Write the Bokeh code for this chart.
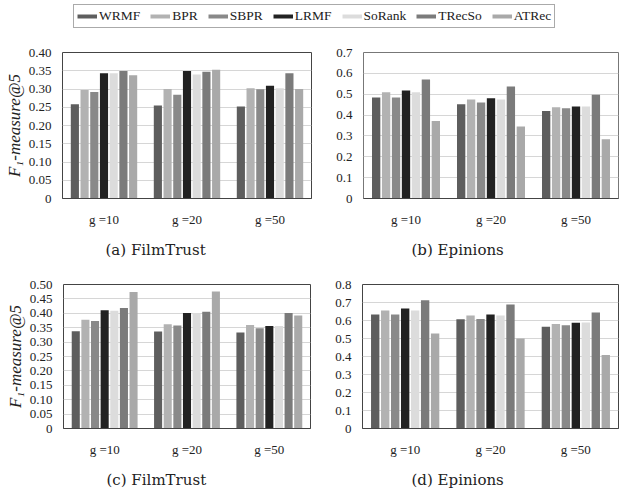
from bokeh.plotting import figure
from bokeh.models import FactorRange, Range1d, FixedTicker, Title, ColumnDataSource, PrintfTickFormatter
from bokeh.transform import dodge
from bokeh.layouts import column, row
from bokeh.embed import file_html
from bokeh.resources import INLINE

groups = ["g =10", "g =20", "g =50"]
methods = ["WRMF", "BPR", "SBPR", "LRMF", "SoRank", "TRecSo", "ATRec"]
colors = ["#5e5e5e", "#b2b2b2", "#898989", "#222222", "#dcdcdc", "#7b7b7b", "#a9a9a9"]

# rows: methods (same order as `methods`), columns: groups
vals_a = [
    [0.258, 0.255, 0.252],
    [0.297, 0.300, 0.302],
    [0.292, 0.284, 0.299],
    [0.343, 0.349, 0.309],
    [0.343, 0.340, 0.302],
    [0.349, 0.347, 0.343],
    [0.338, 0.353, 0.300],
]
vals_b = [
    [0.484, 0.452, 0.420],
    [0.510, 0.475, 0.438],
    [0.484, 0.460, 0.433],
    [0.518, 0.481, 0.441],
    [0.510, 0.475, 0.441],
    [0.571, 0.537, 0.497],
    [0.371, 0.345, 0.284],
]
vals_c = [
    [0.338, 0.337, 0.333],
    [0.378, 0.362, 0.359],
    [0.373, 0.358, 0.348],
    [0.411, 0.401, 0.356],
    [0.409, 0.400, 0.356],
    [0.418, 0.405, 0.401],
    [0.474, 0.476, 0.392],
]
vals_d = [
    [0.633, 0.607, 0.565],
    [0.656, 0.628, 0.581],
    [0.633, 0.609, 0.574],
    [0.667, 0.633, 0.588],
    [0.656, 0.628, 0.589],
    [0.712, 0.689, 0.644],
    [0.528, 0.500, 0.409],
]

ticks_a = [0, 0.05, 0.10, 0.15, 0.20, 0.25, 0.30, 0.35, 0.40]
labels_a = ["0", "0.05", "0.10", "0.15", "0.20", "0.25", "0.30", "0.35", "0.40"]
ticks_b = [0, 0.1, 0.2, 0.3, 0.4, 0.5, 0.6, 0.7]
labels_b = ["0", "0.1", "0.2", "0.3", "0.4", "0.5", "0.6", "0.7"]
ticks_c = [0, 0.05, 0.10, 0.15, 0.20, 0.25, 0.30, 0.35, 0.40, 0.45, 0.50]
labels_c = ["0", "0.05", "0.10", "0.15", "0.20", "0.25", "0.30", "0.35", "0.40", "0.45", "0.50"]
ticks_d = [0, 0.1, 0.2, 0.3, 0.4, 0.5, 0.6, 0.7, 0.8]
labels_d = ["0", "0.1", "0.2", "0.3", "0.4", "0.5", "0.6", "0.7", "0.8"]

ylabel = "F\u2081-measure@5"
SERIF = "'Liberation Serif', 'Times New Roman', Times, serif"
SLOT = 0.117
BARW = 0.098


def panel(vals, ticks, labels, fmt, caption, cap_offset, width, height,
          left, right, top, bottom, ytitle=None, outline="#444444"):
    p = figure(x_range=FactorRange(factors=groups, range_padding=0, factor_padding=0),
               y_range=Range1d(ticks[0], ticks[-1]),
               width=width, height=height,
               min_border_left=left, min_border_right=right,
               min_border_top=top, min_border_bottom=bottom,
               output_backend="svg", toolbar_location=None)
    data = {"g": groups}
    for i, m in enumerate(methods):
        data[m] = vals[i]
    src = ColumnDataSource(data)
    for i, m in enumerate(methods):
        p.vbar(x=dodge("g", (i - 3) * SLOT, range=p.x_range), top=m, width=BARW,
               source=src, fill_color=colors[i], line_color=None)
    p.xgrid.visible = False
    p.ygrid.grid_line_color = "#d6d6d6"
    p.ygrid.grid_line_width = 1
    p.outline_line_color = outline
    p.outline_line_width = 1
    p.background_fill_color = "white"
    p.border_fill_color = "white"

    p.yaxis.ticker = FixedTicker(ticks=ticks)
    p.yaxis.formatter = PrintfTickFormatter(format=fmt)
    p.yaxis.major_label_overrides = dict(zip(ticks, labels))
    p.yaxis.axis_line_color = None
    p.yaxis.major_tick_line_color = None
    p.yaxis.minor_tick_line_color = None
    p.yaxis.major_label_standoff = 5
    p.yaxis.major_label_text_font = SERIF
    p.yaxis.major_label_text_font_size = "13px"
    p.yaxis.major_label_text_color = "#222222"
    if ytitle:
        p.yaxis.axis_label = ytitle
        p.yaxis.axis_label_text_font = SERIF
        p.yaxis.axis_label_text_font_style = "italic"
        p.yaxis.axis_label_text_font_size = "17px"
        p.yaxis.axis_label_text_color = "#222222"
        p.yaxis.axis_label_standoff = 2

    p.xaxis.axis_line_color = "#444444"
    p.xaxis.major_tick_line_color = None
    p.xaxis.minor_tick_line_color = None
    p.xaxis.major_label_standoff = 7
    p.xaxis.major_label_text_font = SERIF
    p.xaxis.major_label_text_font_size = "13px"
    p.xaxis.major_label_text_color = "#222222"

    t = Title(text=caption, align="left", offset=cap_offset,
              text_font="DejaVu Serif", text_font_size="15px",
              text_font_style="normal", text_color="#222222", standoff=18)
    p.add_layout(t, "below")
    return p


# legend strip (legend keys only; nothing is drawn in its frame)
lg = figure(width=627, height=40, x_range=Range1d(0, 1), y_range=Range1d(0, 1),
            min_border=0, output_backend="svg", toolbar_location=None)
lg.axis.visible = False
lg.grid.visible = False
lg.outline_line_color = None
nan = float("nan")
for i, m in enumerate(methods):
    lg.line(x=[nan, nan], y=[nan, nan], line_color=colors[i], line_width=4, legend_label=m)
leg = lg.legend[0]
leg.orientation = "horizontal"
leg.location = (73, 12)
leg.label_text_font = SERIF
leg.label_text_font_size = "13.5px"
leg.label_text_color = "#222222"
leg.label_standoff = 2
leg.glyph_width = 20
leg.glyph_height = 16
leg.label_height = 16
leg.label_width = 10
leg.spacing = 10
leg.padding = 3
leg.margin = 0
leg.border_line_color = "#555555"
leg.border_line_width = 1
leg.background_fill_alpha = 1

pa = panel(vals_a, ticks_a, labels_a, "%.2f", "(a) FilmTrust", 43, 320, 230, 62, 9, 12, 71, ylabel)
pb = panel(vals_b, ticks_b, labels_b, "%.1f", "(b) Epinions", 48, 307, 230, 43, 9, 12, 72, outline="#777777")
pc = panel(vals_c, ticks_c, labels_c, "%.2f", "(c) FilmTrust", 43, 320, 227, 63, 10, 14, 62, ylabel)
pd_ = panel(vals_d, ticks_d, labels_d, "%.1f", "(d) Epinions", 49, 307, 227, 42, 9, 14, 61)

layout = column(lg, row(pa, pb, spacing=0), row(pc, pd_, spacing=0), spacing=0)

open("out.html", "w").write(file_html(layout, INLINE))
